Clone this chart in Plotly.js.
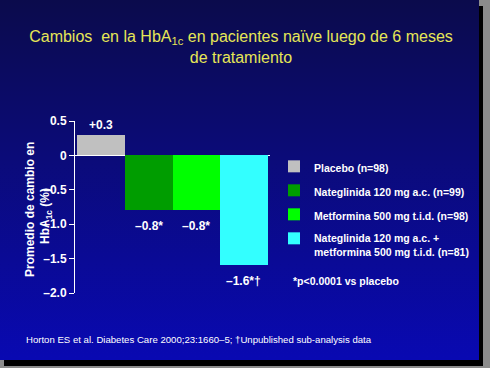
<!DOCTYPE html>
<html>
<head>
<meta charset="utf-8">
<script src="https://cdn.plot.ly/plotly-3.0.1.min.js"></script>
<style>
  html, body { margin:0; padding:0; background:#8c8c8c; width:490px; height:368px; overflow:hidden; }
  #slide { position:absolute; left:0; top:0; width:479px; height:360px;
    background: linear-gradient(to bottom, #0b0b4c 0%, #0b0b7a 45%, #0909b2 100%);
    box-shadow: 4px 6px 0 #000; }
  #chart { position:absolute; left:0; top:0; width:490px; height:368px; }
</style>
</head>
<body>
<div id="slide"></div>
<div id="chart"></div>
<script>
const categories = ["Placebo (n=98)", "Nateglinida 120 mg a.c. (n=99)", "Metformina 500 mg t.i.d. (n=98)", "Nateglinida 120 mg a.c. +<br>metformina 500 mg t.i.d. (n=81)"];
const values = [0.3, -0.8, -0.8, -1.6];
const barLabels = ["+0.3", "–0.8*", "–0.8*", "–1.6*†"];
const colors = ["#c0c0c0", "#009d00", "#00ff00", "#33ffff"];
const tickVals = [0.5, 0, -0.5, -1.0, -1.5, -2.0];
const tickText = ["0.5", "0", "–0.5", "–1.0", "–1.5", "–2.0"];

const FONT = "Arial, 'Liberation Sans', sans-serif";

const traces = categories.map((c, i) => ({
  type: "bar",
  x: [c],
  y: [values[i]],
  name: c,
  legendgroup: "g" + i,
  marker: { color: colors[i], line: { width: 0 } },
  width: 1,
  hoverinfo: "none"
}));

const annotations = categories.map((c, i) => ({
  x: c, y: values[i], xref: "x", yref: "y",
  text: barLabels[i], showarrow: false,
  yanchor: values[i] >= 0 ? "bottom" : "top",
  yshift: values[i] >= 0 ? 1 : -7,
  font: { family: FONT, size: 12, color: "#ffffff", weight: "bold" }
}));

annotations.push(
  { xref: "paper", yref: "paper", x: (30 - 75) / 195, y: (293 - 210) / 172,
    text: "Promedio de cambio en", textangle: -90, showarrow: false,
    xanchor: "center", yanchor: "middle",
    font: { family: FONT, size: 12, color: "#ffffff", weight: "bold" } },
  { xref: "paper", yref: "paper", x: (46 - 75) / 195, y: (293 - 216) / 172,
    text: "HbA<sub>1c</sub> (%)", textangle: -90, showarrow: false,
    xanchor: "center", yanchor: "middle",
    font: { family: FONT, size: 12, color: "#ffffff", weight: "bold" } },
  { xref: "paper", yref: "paper", x: (291 - 75) / 195, y: (293 - 281) / 172,
    text: "*p&lt;0.0001 vs placebo", showarrow: false,
    xanchor: "left", yanchor: "middle",
    font: { family: FONT, size: 10.5, color: "#ffffff", weight: "bold" } },
  { xref: "paper", yref: "paper", x: (24 - 75) / 195, y: (293 - 339) / 172,
    text: "Horton ES et al. Diabetes Care 2000;23:1660–5; †Unpublished sub-analysis data", showarrow: false,
    xanchor: "left", yanchor: "middle",
    font: { family: FONT, size: 9.6, color: "#ffffff" } }
);

const layout = {
  width: 490, height: 368,
  paper_bgcolor: "rgba(0,0,0,0)", plot_bgcolor: "rgba(0,0,0,0)",
  margin: { l: 75, r: 220, t: 121, b: 75, pad: 0 },
  title: {
    text: "Cambios  en la HbA<sub>1c</sub> en pacientes naïve luego de 6 meses<br>de tratamiento",
    font: { family: FONT, size: 16, color: "#e6e656" },
    xref: "container", x: 241 / 490, xanchor: "center",
    yref: "container", y: 1 - 42 / 368, yanchor: "top"
  },
  barmode: "overlay",
  bargap: 0,
  showlegend: true,
  legend: {
    x: (274 - 75) / 195, xanchor: "left",
    y: (293 - 153) / 172, yanchor: "top",
    bgcolor: "rgba(0,0,0,0)", borderwidth: 0,
    traceorder: "grouped", tracegroupgap: 5, valign: "top",
    font: { family: FONT, size: 10.5, color: "#ffffff", weight: "bold" }
  },
  xaxis: {
    type: "category", range: [-0.55, 3.55],
    showticklabels: false, ticks: "", showgrid: false, zeroline: false, showline: false
  },
  yaxis: {
    range: [-2.0, 0.5], tickvals: tickVals, ticktext: tickText,
    ticks: "outside", ticklen: 5, tickcolor: "#ffffff", tickwidth: 1,
    showline: true, linecolor: "#ffffff", linewidth: 1,
    zeroline: true, zerolinecolor: "#ffffff", zerolinewidth: 1,
    showgrid: false,
    tickfont: { family: FONT, size: 12, color: "#ffffff", weight: "bold" }
  },
  annotations: annotations
};

Plotly.newPlot("chart", traces, layout, { displayModeBar: false, staticPlot: true });
</script>
</body>
</html>
